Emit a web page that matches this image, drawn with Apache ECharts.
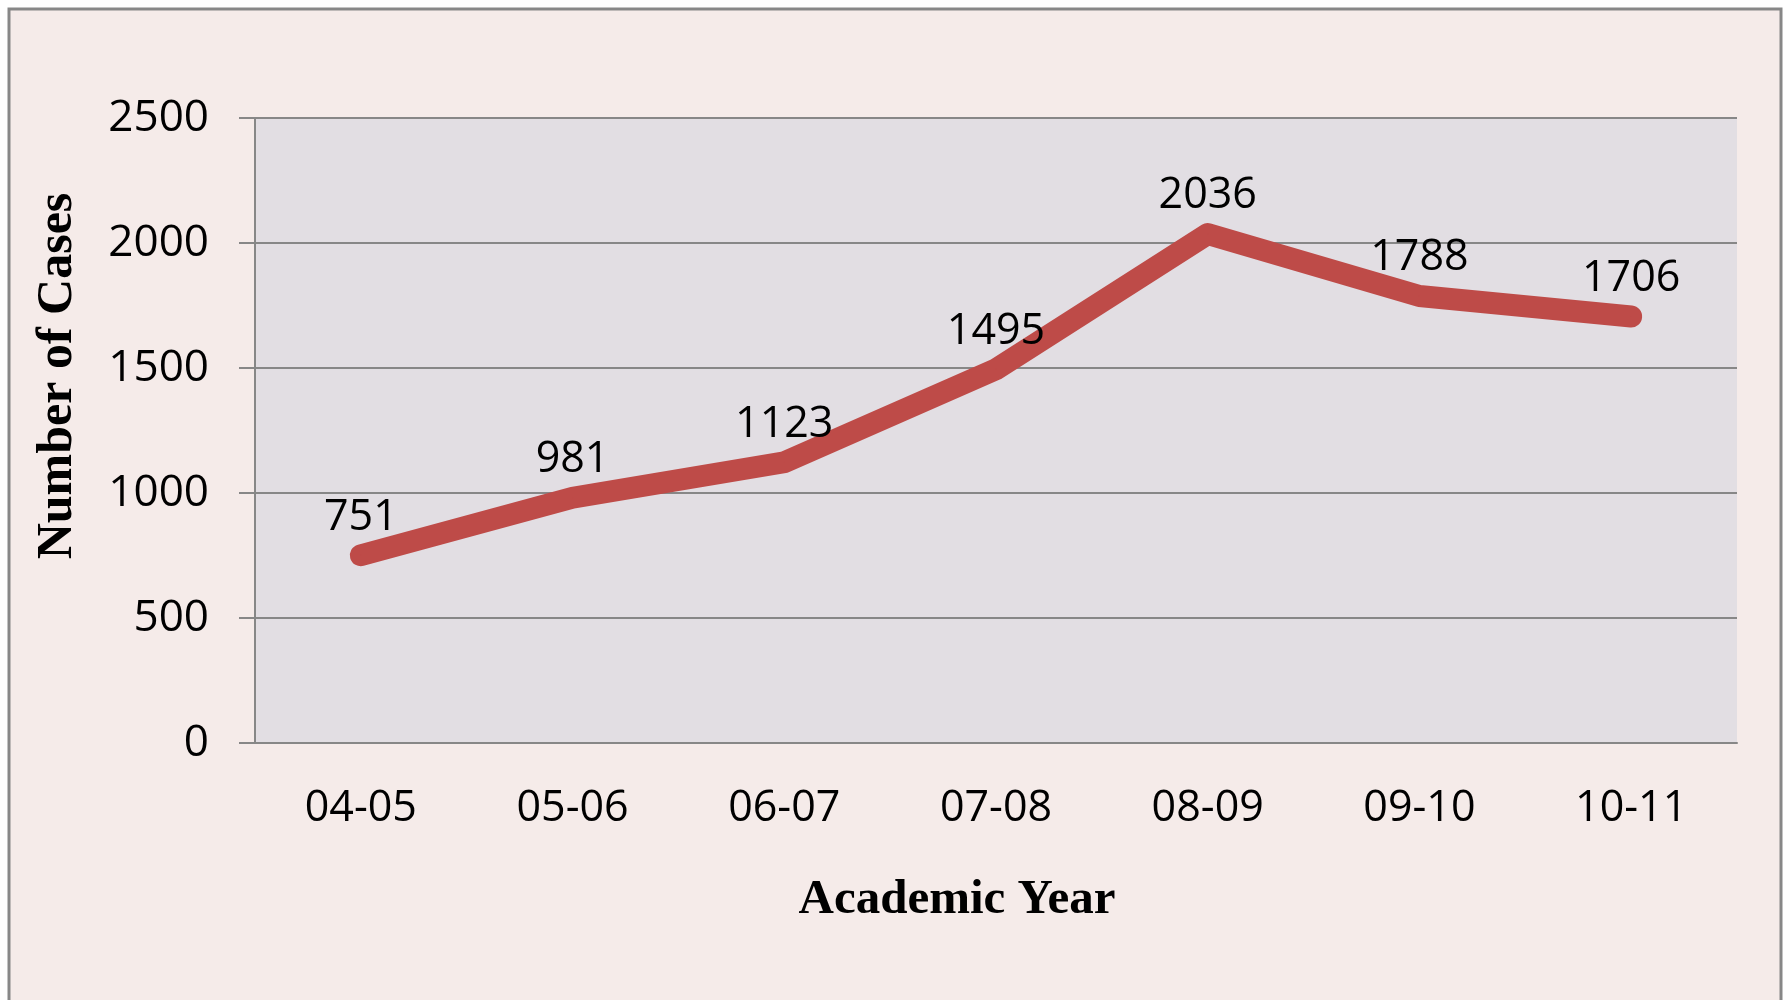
<!DOCTYPE html>
<html>
<head>
<meta charset="utf-8">
<script src="https://cdn.jsdelivr.net/npm/echarts@6/dist/echarts.min.js"></script>
<style>
html,body{margin:0;padding:0;background:#ffffff;}
#chart{width:1785px;height:1000px;}
</style>
</head>
<body>
<div id="chart"></div>
<script>
const categories = ['04-05', '05-06', '06-07', '07-08', '08-09', '09-10', '10-11'];
const cases = [751, 981, 1123, 1495, 2036, 1788, 1706];
const yTicks = { min: 0, max: 2500, interval: 500 };
const xTitle = 'Academic Year';
const yTitle = 'Number of Cases';

const chart = echarts.init(document.getElementById('chart'), null, { renderer: 'canvas' });
const tickFont = '"Open Sans", "Liberation Sans", sans-serif';
const titleFont = '"Liberation Serif", "Times New Roman", serif';

chart.setOption({
  animation: false,
  backgroundColor: '#ffffff',
  graphic: [
    {
      type: 'rect', z: -10, silent: true,
      shape: { x: 9, y: 9, width: 1772, height: 1100 },
      style: { fill: '#F5EBE9', stroke: '#878787', lineWidth: 3 }
    },
    {
      type: 'text', silent: true,
      x: 58, y: 376, rotation: Math.PI / 2,
      style: {
        text: yTitle, font: 'bold 50px ' + titleFont, fill: '#000',
        textAlign: 'center', textVerticalAlign: 'middle'
      }
    },
    {
      type: 'text', silent: true,
      x: 957, y: 900,
      style: {
        text: xTitle, font: 'bold 49px ' + titleFont, fill: '#000',
        textAlign: 'center', textVerticalAlign: 'middle'
      }
    }
  ],
  grid: {
    left: 255, right: 48, top: 118, bottom: 257,
    show: true, backgroundColor: '#E2DEE3', borderWidth: 0
  },
  xAxis: {
    type: 'category',
    data: categories,
    boundaryGap: true,
    axisLine: { show: true, lineStyle: { color: '#878787', width: 2 } },
    axisTick: { show: false },
    axisLabel: { margin: 44, fontSize: 43, fontFamily: tickFont, color: '#000' },
    splitLine: { show: false }
  },
  yAxis: {
    type: 'value',
    min: yTicks.min, max: yTicks.max, interval: yTicks.interval,
    axisLine: { show: true, lineStyle: { color: '#878787', width: 2 } },
    axisTick: { show: true, inside: false, length: 16, lineStyle: { color: '#878787', width: 2 } },
    axisLabel: { margin: 46, fontSize: 44, fontFamily: tickFont, color: '#000', formatter: v => String(v) },
    splitLine: { show: true, lineStyle: { color: '#878787', width: 2 } }
  },
  series: [{
    type: 'line',
    data: cases,
    showSymbol: true,
    symbol: 'circle',
    symbolSize: 1,
    itemStyle: { color: '#BE4B48' },
    lineStyle: { color: '#BE4B48', width: 22, cap: 'round', join: 'round' },
    label: {
      show: true, position: 'top', distance: 16,
      fontSize: 43, fontFamily: tickFont, color: '#000'
    },
    z: 3
  }]
});
</script>
</body>
</html>
